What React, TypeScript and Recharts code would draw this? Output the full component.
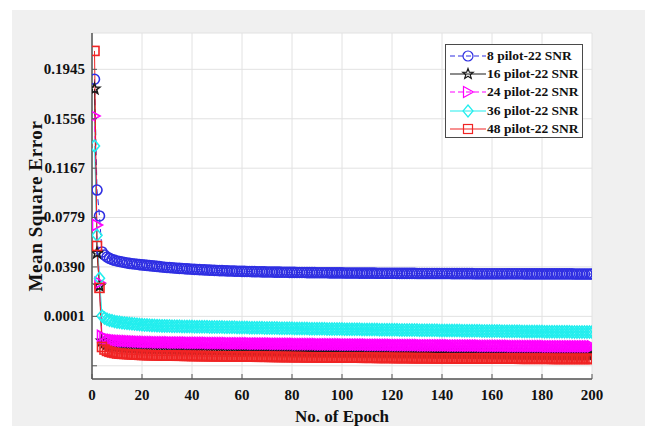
import React from "react";
import { LineChart, Line, XAxis, YAxis, CartesianGrid, Legend } from "recharts";

const EPOCH_TICKS = [0, 20, 40, 60, 80, 100, 120, 140, 160, 180, 200];
const MSE_TICKS = [-0.0388, 0.0001, 0.039, 0.0779, 0.1167, 0.1556, 0.1945];
const MSE_TICK_LABELS = ["", "0.0001", "0.0390", "0.0779", "0.1167", "0.1556", "0.1945"];
const MSE_DOMAIN: [number, number] = [-0.0492, 0.2231];

const SERIES_LABELS = [
  "8 pilot-22 SNR",
  "16 pilot-22 SNR",
  "24 pilot-22 SNR",
  "36 pilot-22 SNR",
  "48 pilot-22 SNR",
];

// training MSE, one value per epoch (1..200)
const MSE_8P = [
  0.1867, 0.0995, 0.0791, 0.0508, 0.0484, 0.0468, 0.0457, 0.0449, 0.0442, 0.0437,
  0.0433, 0.0429, 0.0425, 0.0421, 0.0418, 0.0415, 0.0413, 0.0411, 0.0408, 0.0406,
  0.0404, 0.0402, 0.04, 0.0398, 0.0396, 0.0394, 0.0392, 0.039, 0.0388, 0.0386,
  0.0385, 0.0383, 0.0382, 0.038, 0.0379, 0.0378, 0.0376, 0.0375, 0.0374, 0.0372,
  0.0371, 0.037, 0.0369, 0.0368, 0.0367, 0.0366, 0.0365, 0.0364, 0.0363, 0.0362,
  0.0361, 0.0361, 0.036, 0.0359, 0.0358, 0.0358, 0.0357, 0.0356, 0.0356, 0.0355,
  0.0355, 0.0354, 0.0354, 0.0353, 0.0353, 0.0352, 0.0352, 0.0351, 0.0351, 0.035,
  0.035, 0.035, 0.0349, 0.0349, 0.0349, 0.0348, 0.0348, 0.0348, 0.0347, 0.0347,
  0.0347, 0.0346, 0.0346, 0.0346, 0.0346, 0.0345, 0.0345, 0.0345, 0.0345, 0.0344,
  0.0344, 0.0344, 0.0344, 0.0344, 0.0343, 0.0343, 0.0343, 0.0343, 0.0343, 0.0343,
  0.0342, 0.0342, 0.0342, 0.0342, 0.0342, 0.0342, 0.0341, 0.0341, 0.0341, 0.0341,
  0.0341, 0.0341, 0.0341, 0.034, 0.034, 0.034, 0.034, 0.034, 0.034, 0.034,
  0.034, 0.0339, 0.0339, 0.0339, 0.0339, 0.0339, 0.0339, 0.0339, 0.0339, 0.0338,
  0.0338, 0.0338, 0.0338, 0.0338, 0.0338, 0.0338, 0.0338, 0.0338, 0.0338, 0.0338,
  0.0338, 0.0338, 0.0338, 0.0337, 0.0337, 0.0337, 0.0337, 0.0337, 0.0337, 0.0337,
  0.0337, 0.0337, 0.0336, 0.0336, 0.0336, 0.0336, 0.0336, 0.0336, 0.0336, 0.0336,
  0.0336, 0.0336, 0.0336, 0.0336, 0.0336, 0.0336, 0.0336, 0.0336, 0.0336, 0.0336,
  0.0336, 0.0336, 0.0335, 0.0335, 0.0335, 0.0335, 0.0335, 0.0335, 0.0335, 0.0335,
  0.0335, 0.0335, 0.0335, 0.0335, 0.0335, 0.0335, 0.0335, 0.0335, 0.0335, 0.0335,
  0.0335, 0.0335, 0.0334, 0.0334, 0.0334, 0.0334, 0.0334, 0.0334, 0.0334, 0.0334,
];

const MSE_16P = [
  0.1791, 0.0499, 0.024, -0.0192, -0.0208, -0.0218, -0.0224, -0.0228, -0.023, -0.0232,
  -0.0234, -0.0236, -0.0238, -0.024, -0.0241, -0.0242, -0.0243, -0.0244, -0.0246, -0.0247,
  -0.0248, -0.0248, -0.0249, -0.0249, -0.025, -0.025, -0.0251, -0.0251, -0.0252, -0.0252,
  -0.0252, -0.0253, -0.0253, -0.0254, -0.0254, -0.0254, -0.0255, -0.0255, -0.0255, -0.0256,
  -0.0256, -0.0256, -0.0257, -0.0257, -0.0257, -0.0258, -0.0258, -0.0258, -0.0259, -0.0259,
  -0.0259, -0.026, -0.026, -0.026, -0.0261, -0.0261, -0.0261, -0.0262, -0.0262, -0.0263,
  -0.0263, -0.0263, -0.0264, -0.0264, -0.0264, -0.0265, -0.0265, -0.0265, -0.0266, -0.0266,
  -0.0266, -0.0267, -0.0267, -0.0267, -0.0268, -0.0268, -0.0268, -0.0269, -0.0269, -0.0269,
  -0.027, -0.027, -0.027, -0.0271, -0.0271, -0.0271, -0.0272, -0.0272, -0.0272, -0.0273,
  -0.0273, -0.0273, -0.0273, -0.0274, -0.0274, -0.0274, -0.0274, -0.0275, -0.0275, -0.0275,
  -0.0275, -0.0276, -0.0276, -0.0276, -0.0276, -0.0277, -0.0277, -0.0277, -0.0277, -0.0278,
  -0.0278, -0.0278, -0.0278, -0.0279, -0.0279, -0.0279, -0.0279, -0.028, -0.028, -0.028,
  -0.028, -0.0281, -0.0281, -0.0281, -0.0281, -0.0282, -0.0282, -0.0282, -0.0282, -0.0283,
  -0.0283, -0.0283, -0.0283, -0.0284, -0.0284, -0.0284, -0.0284, -0.0285, -0.0285, -0.0285,
  -0.0285, -0.0286, -0.0286, -0.0286, -0.0286, -0.0286, -0.0287, -0.0287, -0.0287, -0.0287,
  -0.0288, -0.0288, -0.0288, -0.0288, -0.0289, -0.0289, -0.0289, -0.0289, -0.029, -0.029,
  -0.029, -0.029, -0.0291, -0.0291, -0.0291, -0.0291, -0.0292, -0.0292, -0.0292, -0.0292,
  -0.0293, -0.0293, -0.0293, -0.0293, -0.0294, -0.0294, -0.0294, -0.0294, -0.0295, -0.0295,
  -0.0295, -0.0295, -0.0296, -0.0296, -0.0296, -0.0296, -0.0297, -0.0297, -0.0297, -0.0297,
  -0.0297, -0.0298, -0.0298, -0.0298, -0.0298, -0.0298, -0.0299, -0.0299, -0.0299, -0.0299,
];

const MSE_24P = [
  0.1578, 0.072, 0.0265, -0.0153, -0.0168, -0.0176, -0.0181, -0.0184, -0.0187, -0.0189,
  -0.0191, -0.0192, -0.0193, -0.0194, -0.0195, -0.0196, -0.0197, -0.0198, -0.0199, -0.02,
  -0.02, -0.0201, -0.0201, -0.0202, -0.0202, -0.0203, -0.0203, -0.0203, -0.0204, -0.0204,
  -0.0204, -0.0205, -0.0205, -0.0205, -0.0206, -0.0206, -0.0206, -0.0206, -0.0207, -0.0207,
  -0.0207, -0.0207, -0.0208, -0.0208, -0.0208, -0.0208, -0.0209, -0.0209, -0.0209, -0.0209,
  -0.021, -0.021, -0.021, -0.021, -0.0211, -0.0211, -0.0211, -0.0211, -0.0212, -0.0212,
  -0.0212, -0.0212, -0.0212, -0.0213, -0.0213, -0.0213, -0.0213, -0.0214, -0.0214, -0.0214,
  -0.0214, -0.0214, -0.0215, -0.0215, -0.0215, -0.0215, -0.0216, -0.0216, -0.0216, -0.0216,
  -0.0216, -0.0217, -0.0217, -0.0217, -0.0217, -0.0218, -0.0218, -0.0218, -0.0218, -0.0218,
  -0.0219, -0.0219, -0.0219, -0.0219, -0.0219, -0.022, -0.022, -0.022, -0.022, -0.022,
  -0.0221, -0.0221, -0.0221, -0.0221, -0.0221, -0.0222, -0.0222, -0.0222, -0.0222, -0.0222,
  -0.0223, -0.0223, -0.0223, -0.0223, -0.0223, -0.0224, -0.0224, -0.0224, -0.0224, -0.0224,
  -0.0225, -0.0225, -0.0225, -0.0225, -0.0225, -0.0226, -0.0226, -0.0226, -0.0226, -0.0226,
  -0.0226, -0.0227, -0.0227, -0.0227, -0.0227, -0.0227, -0.0227, -0.0228, -0.0228, -0.0228,
  -0.0228, -0.0228, -0.0228, -0.0229, -0.0229, -0.0229, -0.0229, -0.0229, -0.0229, -0.023,
  -0.023, -0.023, -0.023, -0.023, -0.023, -0.0231, -0.0231, -0.0231, -0.0231, -0.0231,
  -0.0231, -0.0232, -0.0232, -0.0232, -0.0232, -0.0232, -0.0232, -0.0233, -0.0233, -0.0233,
  -0.0233, -0.0233, -0.0233, -0.0233, -0.0234, -0.0234, -0.0234, -0.0234, -0.0234, -0.0234,
  -0.0234, -0.0235, -0.0235, -0.0235, -0.0235, -0.0235, -0.0235, -0.0235, -0.0235, -0.0236,
  -0.0236, -0.0236, -0.0236, -0.0236, -0.0236, -0.0236, -0.0236, -0.0236, -0.0236, -0.0236,
];

const MSE_36P = [
  0.1342, 0.064, 0.0301, 0.0004, -0.0012, -0.0022, -0.0029, -0.0034, -0.0039, -0.0043,
  -0.0046, -0.0049, -0.0052, -0.0054, -0.0056, -0.0058, -0.006, -0.0062, -0.0064, -0.0066,
  -0.0067, -0.0068, -0.0069, -0.007, -0.0071, -0.0072, -0.0073, -0.0074, -0.0074, -0.0075,
  -0.0075, -0.0076, -0.0076, -0.0077, -0.0077, -0.0078, -0.0078, -0.0078, -0.0079, -0.0079,
  -0.008, -0.008, -0.008, -0.0081, -0.0081, -0.0081, -0.0082, -0.0082, -0.0082, -0.0083,
  -0.0083, -0.0083, -0.0084, -0.0084, -0.0084, -0.0085, -0.0085, -0.0086, -0.0086, -0.0087,
  -0.0087, -0.0087, -0.0088, -0.0088, -0.0088, -0.0089, -0.0089, -0.0089, -0.009, -0.009,
  -0.009, -0.0091, -0.0091, -0.0091, -0.0092, -0.0092, -0.0092, -0.0093, -0.0093, -0.0093,
  -0.0094, -0.0094, -0.0094, -0.0095, -0.0095, -0.0095, -0.0096, -0.0096, -0.0096, -0.0097,
  -0.0097, -0.0097, -0.0097, -0.0098, -0.0098, -0.0098, -0.0098, -0.0099, -0.0099, -0.0099,
  -0.01, -0.01, -0.01, -0.0101, -0.0101, -0.0101, -0.0101, -0.0102, -0.0102, -0.0102,
  -0.0103, -0.0103, -0.0103, -0.0103, -0.0104, -0.0104, -0.0104, -0.0104, -0.0105, -0.0105,
  -0.0105, -0.0105, -0.0106, -0.0106, -0.0106, -0.0106, -0.0107, -0.0107, -0.0107, -0.0107,
  -0.0108, -0.0108, -0.0108, -0.0108, -0.0109, -0.0109, -0.0109, -0.0109, -0.011, -0.011,
  -0.011, -0.011, -0.011, -0.0111, -0.0111, -0.0111, -0.0111, -0.0112, -0.0112, -0.0112,
  -0.0112, -0.0113, -0.0113, -0.0113, -0.0113, -0.0114, -0.0114, -0.0114, -0.0114, -0.0115,
  -0.0115, -0.0115, -0.0115, -0.0116, -0.0116, -0.0116, -0.0116, -0.0117, -0.0117, -0.0117,
  -0.0117, -0.0118, -0.0118, -0.0118, -0.0118, -0.0118, -0.0119, -0.0119, -0.0119, -0.0119,
  -0.012, -0.012, -0.012, -0.012, -0.012, -0.0121, -0.0121, -0.0121, -0.0121, -0.0121,
  -0.0121, -0.0122, -0.0122, -0.0122, -0.0122, -0.0122, -0.0122, -0.0122, -0.0122, -0.0122,
];

const MSE_48P = [
  0.209, 0.0555, 0.0225, -0.024, -0.026, -0.0271, -0.0278, -0.0283, -0.0287, -0.0291,
  -0.0293, -0.0294, -0.0295, -0.0296, -0.0297, -0.0298, -0.0299, -0.03, -0.0302, -0.0303,
  -0.0303, -0.0304, -0.0304, -0.0305, -0.0305, -0.0306, -0.0306, -0.0307, -0.0307, -0.0307,
  -0.0308, -0.0308, -0.0308, -0.0309, -0.0309, -0.0309, -0.031, -0.031, -0.031, -0.0311,
  -0.0311, -0.0311, -0.0311, -0.0312, -0.0312, -0.0312, -0.0312, -0.0313, -0.0313, -0.0313,
  -0.0313, -0.0313, -0.0314, -0.0314, -0.0314, -0.0314, -0.0315, -0.0315, -0.0315, -0.0315,
  -0.0315, -0.0316, -0.0316, -0.0316, -0.0316, -0.0317, -0.0317, -0.0317, -0.0317, -0.0317,
  -0.0318, -0.0318, -0.0318, -0.0318, -0.0319, -0.0319, -0.0319, -0.0319, -0.0319, -0.032,
  -0.032, -0.032, -0.032, -0.032, -0.0321, -0.0321, -0.0321, -0.0321, -0.0321, -0.0322,
  -0.0322, -0.0322, -0.0322, -0.0322, -0.0322, -0.0323, -0.0323, -0.0323, -0.0323, -0.0323,
  -0.0323, -0.0324, -0.0324, -0.0324, -0.0324, -0.0324, -0.0324, -0.0325, -0.0325, -0.0325,
  -0.0325, -0.0325, -0.0325, -0.0326, -0.0326, -0.0326, -0.0326, -0.0326, -0.0326, -0.0326,
  -0.0327, -0.0327, -0.0327, -0.0327, -0.0327, -0.0327, -0.0327, -0.0328, -0.0328, -0.0328,
  -0.0328, -0.0328, -0.0328, -0.0328, -0.0328, -0.0329, -0.0329, -0.0329, -0.0329, -0.0329,
  -0.0329, -0.0329, -0.0329, -0.033, -0.033, -0.033, -0.033, -0.033, -0.033, -0.033,
  -0.033, -0.0331, -0.0331, -0.0331, -0.0331, -0.0331, -0.0331, -0.0331, -0.0331, -0.0332,
  -0.0332, -0.0332, -0.0332, -0.0332, -0.0332, -0.0332, -0.0332, -0.0332, -0.0332, -0.0332,
  -0.0333, -0.0333, -0.0333, -0.0333, -0.0333, -0.0333, -0.0333, -0.0333, -0.0333, -0.0333,
  -0.0333, -0.0333, -0.0333, -0.0334, -0.0334, -0.0334, -0.0334, -0.0334, -0.0334, -0.0334,
  -0.0334, -0.0334, -0.0334, -0.0334, -0.0334, -0.0334, -0.0334, -0.0334, -0.0334, -0.0334,
];

type Shape = "circle" | "star" | "triangle" | "diamond" | "square";

const SERIES: { key: string; name: string; color: string; shape: Shape; dash?: string; values: number[] }[] = [
  { key: "p8", name: SERIES_LABELS[0], color: "#2f2fe2", shape: "circle", dash: "6 4", values: MSE_8P },
  { key: "p16", name: SERIES_LABELS[1], color: "#1a1a1a", shape: "star", values: MSE_16P },
  { key: "p24", name: SERIES_LABELS[2], color: "#ff00ff", shape: "triangle", dash: "6 4", values: MSE_24P },
  { key: "p36", name: SERIES_LABELS[3], color: "#22eeee", shape: "diamond", values: MSE_36P },
  { key: "p48", name: SERIES_LABELS[4], color: "#f02424", shape: "square", values: MSE_48P },
];

const rows = MSE_8P.map((_, i) => {
  const row: Record<string, number> = { epoch: i + 1 };
  SERIES.forEach((s) => {
    row[s.key] = s.values[i];
  });
  return row;
});

const FONT = "'Liberation Serif', 'Times New Roman', serif";

function starPoints(cx: number, cy: number, r: number) {
  const pts: string[] = [];
  for (let k = 0; k < 10; k++) {
    const rad = k % 2 === 0 ? r : r * 0.42;
    const a = -Math.PI / 2 + (k * Math.PI) / 5;
    pts.push(`${cx + rad * Math.cos(a)},${cy + rad * Math.sin(a)}`);
  }
  return pts.join(" ");
}

function Marker({ shape, cx, cy, color, sw = 1.6 }: { shape: Shape; cx: number; cy: number; color: string; sw?: number }) {
  const common = { fill: "none", stroke: color, strokeWidth: sw };
  switch (shape) {
    case "circle":
      return <circle cx={cx} cy={cy} r={5} {...common} />;
    case "square":
      return <rect x={cx - 4.5} y={cy - 4.5} width={9} height={9} {...common} />;
    case "triangle":
      return <polygon points={`${cx + 5.5},${cy} ${cx - 4.5},${cy - 5.5} ${cx - 4.5},${cy + 5.5}`} {...common} />;
    case "diamond":
      return <polygon points={`${cx},${cy - 6} ${cx + 5},${cy} ${cx},${cy + 6} ${cx - 5},${cy}`} {...common} />;
    default:
      return <polygon points={starPoints(cx, cy, 5.5)} {...common} />;
  }
}

function XTick(props: any) {
  const { x, y, payload } = props;
  return (
    <g>
      <line x1={x} x2={x} y1={y} y2={y - 5} stroke="#555" strokeWidth={1} />
      <text x={x} y={y + 21} textAnchor="middle" fontFamily={FONT} fontWeight="bold" fontSize={15} fill="#111">
        {payload.value}
      </text>
    </g>
  );
}

function YTick(props: any) {
  const { x, y, payload } = props;
  const idx = MSE_TICKS.indexOf(payload.value);
  return (
    <g>
      <line x1={x} x2={x + 5} y1={y} y2={y} stroke="#555" strokeWidth={1} />
      <text x={x - 7} y={y + 5} textAnchor="end" fontFamily={FONT} fontWeight="bold" fontSize={15} fill="#111">
        {MSE_TICK_LABELS[idx]}
      </text>
    </g>
  );
}

function LegendBox() {
  return (
    <div
      style={{
        width: 138,
        height: 94,
        boxSizing: "border-box",
        border: "1px solid #4a4a4a",
        background: "#fff",
        paddingTop: 2,
      }}
    >
      {SERIES.map((s) => (
        <div key={s.key} style={{ display: "flex", alignItems: "center", height: 18.2 }}>
          <svg width={41} height={14} style={{ flex: "none" }}>
            <line x1={4} x2={40} y1={7} y2={7} stroke={s.color} strokeWidth={1.2} strokeDasharray={s.dash ? "5 3" : undefined} />
            <Marker shape={s.shape} cx={22} cy={7} color={s.color} sw={1.2} />
          </svg>
          <span style={{ fontFamily: FONT, fontWeight: "bold", fontSize: 13.5, color: "#111", whiteSpace: "nowrap" }}>
            {s.name}
          </span>
        </div>
      ))}
    </div>
  );
}

export default function App() {
  return (
    <div style={{ position: "fixed", left: 0, top: 0, width: 645, height: 426, background: "#fff" }}>
      <div style={{ position: "absolute", left: 12, top: 10, right: 0, bottom: 0, background: "#f0f0f0" }} />
      <div style={{ position: "absolute", left: 0, top: 0 }}>
        <LineChart width={645} height={426} data={rows} margin={{ top: 33, right: 53, bottom: 1, left: 12 }}>
          <CartesianGrid stroke="#e2e2e2" fill="#ffffff" />
          <XAxis
            dataKey="epoch"
            type="number"
            domain={[0, 200]}
            ticks={EPOCH_TICKS}
            interval={0}
            allowDataOverflow
            height={46}
            tickSize={0}
            tickMargin={0}
            tickLine={false}
            axisLine={{ stroke: "#555", strokeWidth: 1.5 }}
            tick={(p: any) => <XTick {...p} />}
            label={{
              value: "No. of Epoch",
              position: "insideBottom",
              offset: 3,
              style: { fontFamily: FONT, fontWeight: "bold", fontSize: 17, fill: "#111" },
            }}
          />
          <YAxis
            type="number"
            domain={MSE_DOMAIN}
            ticks={MSE_TICKS}
            interval={0}
            allowDataOverflow
            width={80}
            tickSize={0}
            tickMargin={0}
            tickLine={false}
            axisLine={{ stroke: "#555", strokeWidth: 1.5 }}
            tick={(p: any) => <YTick {...p} />}
            label={{
              value: "Mean Square Error",
              angle: -90,
              position: "insideLeft",
              offset: 23,
              style: { fontFamily: FONT, fontWeight: "bold", fontSize: 19, fill: "#111", textAnchor: "middle", letterSpacing: 0.6 },
            }}
          />
          <Legend
            layout="vertical"
            align="center"
            verticalAlign="middle"
            wrapperStyle={{ left: 445, top: 44, width: 138, height: 94 }}
            content={() => <LegendBox />}
          />
          {SERIES.map((s) => (
            <Line
              key={s.key}
              type="linear"
              dataKey={s.key}
              name={s.name}
              stroke={s.color}
              strokeWidth={1}
              strokeDasharray={s.dash}
              dot={(p: any) => <Marker key={`${s.key}-${p.index}`} shape={s.shape} cx={p.cx} cy={p.cy} color={s.color} />}
              activeDot={false}
              isAnimationActive={false}
            />
          ))}
        </LineChart>
      </div>
    </div>
  );
}
